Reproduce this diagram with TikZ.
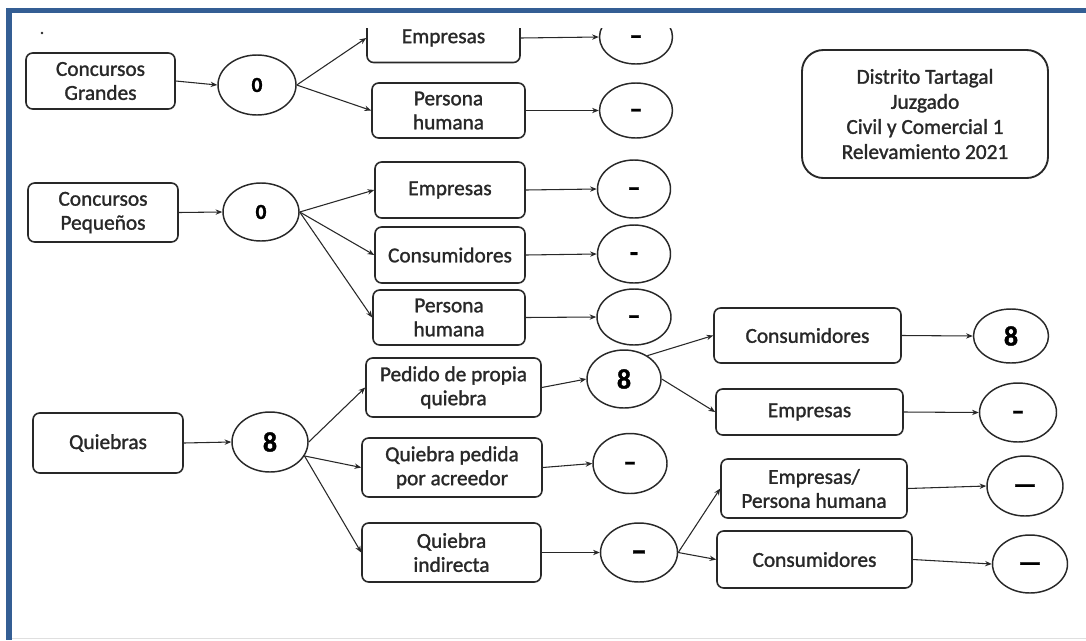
\documentclass[tikz,border=0pt]{standalone}
\usepackage{fontspec}
\setmainfont{Carlito}[FakeBold=1.3]
\usetikzlibrary{arrows.meta,shapes.geometric}
\definecolor{ink}{RGB}{40,40,40}
\definecolor{framebar}{RGB}{52,94,148}
% a dash centred on the node centre
\newcommand\mdash[1]{\smash{\raisebox{-0.27em}{#1}}}
\begin{document}
\begin{tikzpicture}[x=0.75pt,y=-0.75pt,
  wh/.style 2 args={minimum width=#1*0.75pt, minimum height=#2*0.75pt},
  box/.style={draw=ink, line width=1.2pt, rounded corners=5pt, align=center,
    text=ink, font=\fontsize{16}{18}\selectfont, inner sep=0pt},
  oval/.style={draw=ink, line width=1.1pt, ellipse, inner sep=0pt,
    text=black, font=\bfseries\fontsize{16}{18}\selectfont},
  dsh/.style={font=\bfseries\fontsize{20}{20}\selectfont},
  big/.style={font=\bfseries\fontsize{21}{21}\selectfont},
  arr/.style={draw=ink, line width=0.8pt, -{Stealth[length=5pt,width=4pt]}}]

\useasboundingbox (0,0) rectangle (1086,640);
\fill[white] (0,0) rectangle (1086,640);

% window frame
\fill[framebar] (6,8) rectangle (1086,13);
\fill[framebar] (6,8) rectangle (12,640);
\draw[gray!25, line width=0.8pt] (12,638.5) -- (1086,638.5);
\fill[ink] (42,33) circle (1.3);

\begin{scope}
\clip (12,28) rectangle (1086,640);

% ---- Concursos Grandes
\node[box, wh={149}{56}] (g1) at (100.5,81) {Concursos\\Grandes};
\node[oval, wh={78}{60}] (c1) at (257,85) {0};
\node[box, wh={153}{49}] (e1) at (443.5,38) {Empresas};
\node[oval, dsh, wh={73}{54}] (ec1) at (636,37) {\mdash{–}};
\node[box, wh={153}{55}] (p1) at (448.5,110.5) {Persona\\humana};
\node[oval, dsh, wh={73}{55}] (pc1) at (636,110.5) {\mdash{–}};

% ---- Concursos Pequeños
\node[box, wh={150}{59}] (g2) at (103,212.5) {Concursos\\Pequeños};
\node[oval, wh={76}{58}] (c2) at (261,212) {0};
\node[box, wh={150}{56}] (e2) at (450,190) {Empresas};
\node[box, wh={150}{56}] (k2) at (450,255) {Consumidores};
\node[box, wh={152}{55}] (p2) at (449,317.5) {Persona\\humana};
\node[oval, dsh, wh={73}{58}] (ec2) at (634,189) {\mdash{–}};
\node[oval, dsh, wh={73}{58}] (kc2) at (634,254) {\mdash{-}};
\node[oval, dsh, wh={74}{56}] (pc2) at (634,317) {\mdash{–}};

% ---- Quiebras
\node[box, wh={150}{60}] (q) at (108,443) {Quiebras};
\node[oval, big, wh={76}{60}] (c3) at (270,442) {8};
\node[box, wh={175}{59}] (ped) at (453.5,387.5) {Pedido de propia\\quiebra};
\node[box, wh={180}{59}] (acr) at (452,467.5) {Quiebra pedida\\por acreedor};
\node[box, wh={179}{59}] (ind) at (451.5,552.5) {Quiebra\\indirecta};
\node[oval, big, wh={74}{58}] (c4) at (624,379) {8};
\node[oval, dsh, wh={74}{60}] (ac) at (630,463.5) {\mdash{–}};
\node[oval, dsh, wh={77}{59}] (ic) at (639,552.5) {\fontsize{24}{24}\selectfont\mdash{–}};
\node[box, wh={187}{55}] (kr) at (807.5,335.5) {Consumidores};
\node[box, wh={187}{46}] (er) at (809.5,412) {Empresas};
\node[box, wh={186}{59}] (epr) at (814,488.5) {Empresas/\\Persona humana};
\node[box, wh={195}{57}] (kb) at (814.5,559.5) {Consumidores};
\node[oval, big, wh={75}{54}] (r1) at (1011,336) {8};
\node[oval, dsh, wh={77}{59}] (r2) at (1018,412.5) {\mdash{–}};
\node[oval, dsh, wh={76}{60}] (r3) at (1025,486) {\mdash{—}};
\node[oval, dsh, wh={75}{58}] (r4) at (1030,564) {\mdash{—}};

% ---- title block
\node[box, rounded corners=16pt, line width=1.4pt, wh={246}{128},
  font=\fontsize{16}{18.8}\selectfont] (dist) at (925,114)
  {Distrito Tartagal\\Juzgado\\Civil y Comercial 1\\Relevamiento 2021};

% ---- connectors
\draw[arr] (g1.east) -- (c1.west);
\draw[arr] (c1.east) -- (e1.west);
\draw[arr] (c1.east) -- (p1.west);
\draw[arr] (e1.east) -- (ec1.west);
\draw[arr] (p1.east) -- (pc1.west);

\draw[arr] (g2.east) -- (c2.west);
\draw[arr] (c2.east) -- (e2.west);
\draw[arr] (c2.east) -- (k2.west);
\draw[arr] (c2.east) -- (p2.west);
\draw[arr] (e2.east) -- (ec2.west);
\draw[arr] (k2.east) -- (kc2.west);
\draw[arr] (p2.east) -- (pc2.west);

\draw[arr] (q.east) -- (c3.west);
\draw[arr] (c3.east) -- (ped.west);
\draw[arr] (c3.-22) -- (acr.west);
\draw[arr] (c3.-22) -- (ind.west);
\draw[arr] (ped.east) -- (c4.west);
\draw[arr] (acr.east) -- (ac.west);
\draw[arr] (ind.east) -- (ic.west);
\draw[arr] (c4.45) -- (kr.west);
\draw[arr] (c4.east) -- (er.west);
\draw[arr] (ic.east) -- (epr.west);
\draw[arr] (ic.east) -- (kb.west);
\draw[arr] (kr.east) -- (r1.west);
\draw[arr] (er.east) -- (r2.west);
\draw[arr] (epr.east) -- (r3.west);
\draw[arr] (kb.east) -- (r4.west);
\end{scope}
\end{tikzpicture}
\end{document}
